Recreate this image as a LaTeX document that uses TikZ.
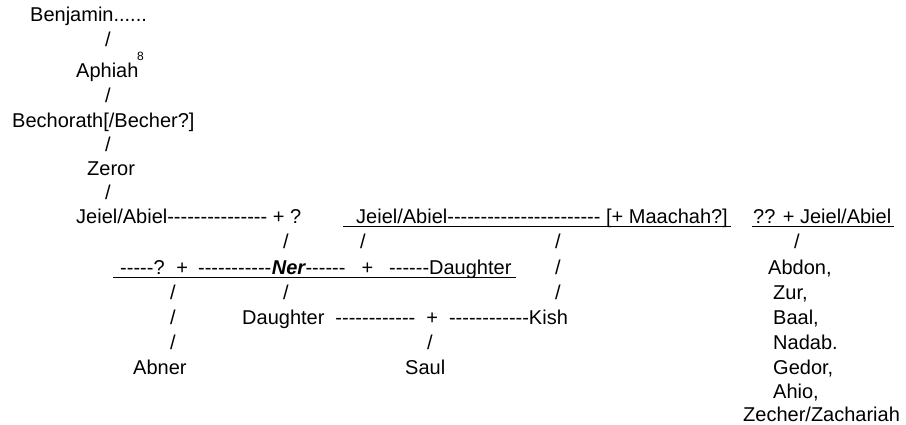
\documentclass[tikz,border=0pt]{standalone}
\usepackage{fontspec}
\setmainfont{Liberation Sans}[Ligatures=TeXOff]
\usetikzlibrary{calc}

\begin{document}
\begin{tikzpicture}[x=1pt,y=-1pt,
  txt/.style={anchor=base west,inner sep=0pt,font=\fontsize{20}{24}\selectfont},
  sl/.style={anchor=base,inner sep=0pt,font=\fontsize{20}{24}\selectfont},
  wide/.style={font={\fontsize{20}{24}\selectfont\spaceskip=#1pt\relax}},
  uline/.style={line width=1pt}]
\useasboundingbox[fill=white] (0,0) rectangle (906,425);

% Line from Benjamin down to Jeiel
\node[txt] (benjamin) at (30,22) {Benjamin......};
\node[sl] (s1) at (108,47) {/};
\node[txt] (aphiah) at (76,78) {Aphiah};
\node[txt,font=\fontsize{12}{14}\selectfont] (note) at (137,61) {8};
\node[sl] (s2) at (108,103) {/};
\node[txt] (bechorath) at (12,128) {Bechorath[/Becher?]};
\node[sl] (s3) at (108,152) {/};
\node[txt] (zeror) at (87,176) {Zeror};
\node[sl] (s4) at (108,200) {/};

% The three Jeiel rows
\node[txt] (jeiel) at (76,224) {Jeiel/Abiel--------------- + ?};
\node[txt] (jeielb) at (356,224) {Jeiel/Abiel----------------------- [+ Maachah?]};
\node[txt] (jeielc) at (753,224) {?? + Jeiel/Abiel};
\draw[uline] ($(jeielb.base west)+(-13,3)$) -- ($(jeielb.base east)+(3,3)$);
\draw[uline] ($(jeielc.base west)+(-1,3)$) -- ($(jeielc.base east)+(3,3)$);
\node[sl] (s5) at (286,249) {/};
\node[sl] (s6) at (363,249) {/};
\node[sl] (s7) at (558,249) {/};
\node[sl] (s8) at (797,249) {/};

% Ner and his line
\node[txt,wide=10] (nerwife) at (120,274) {-----? + -----------};
\node[txt,font=\fontsize{20}{24}\selectfont\bfseries\itshape] (ner) at (nerwife.base east) {Ner};
\node[txt,wide=16] (nerdau) at (ner.base east) {------ + ------Daughter};
\draw[uline] ($(nerwife.base west)+(-7,3)$) -- ($(nerdau.base east)+(4,3)$);
\node[sl] (s9) at (558,274) {/};
\node[sl] (s10) at (173,299) {/};
\node[sl] (s11) at (286,299) {/};
\node[sl] (s12) at (558,299) {/};
\node[sl] (s13) at (173,324) {/};
\node[txt,wide=11] (kish) at (242,324) {Daughter ------------ + ------------Kish};
\node[sl] (s14) at (173,349) {/};
\node[sl] (s15) at (430,349) {/};
\node[txt] (abner) at (133,374) {Abner};
\node[txt] (saul) at (405,374) {Saul};

% Sons of Jeiel
\node[txt] (abdon) at (768,274) {Abdon,};
\node[txt] (zur) at (773,299) {Zur,};
\node[txt] (baal) at (773,324) {Baal,};
\node[txt] (nadab) at (773,349) {Nadab.};
\node[txt] (gedor) at (773,374) {Gedor,};
\node[txt] (ahio) at (773,398) {Ahio,};
\node[txt] (zecher) at (743,421) {Zecher/Zachariah};
\end{tikzpicture}
\end{document}
